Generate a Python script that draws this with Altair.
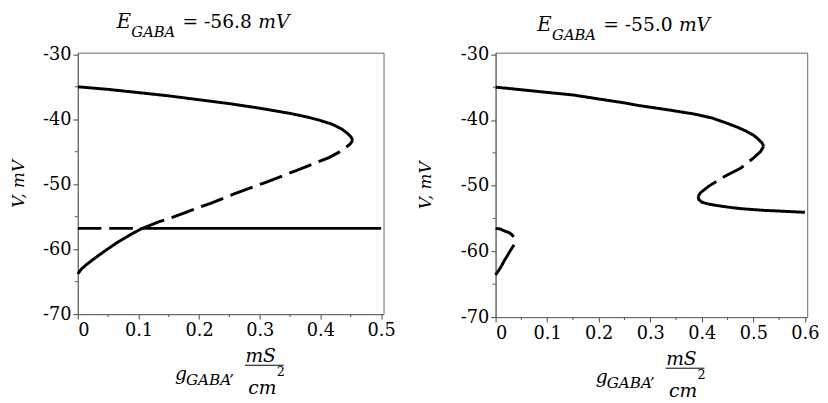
import altair as alt
import pandas as pd

FONT = "DejaVu Serif"

# ---------------- Left panel (E_GABA = -56.8 mV) ----------------
L_up_g = [0, 0.05, 0.1, 0.15, 0.2, 0.25, 0.3, 0.35, 0.38, 0.40, 0.42, 0.435, 0.445, 0.451, 0.453]
L_up_v = [-35.0, -35.4, -35.9, -36.4, -37.0, -37.6, -38.3, -39.1, -39.7, -40.2, -40.8, -41.5, -42.2, -42.8, -43.3]

L_low_solid_g = [0, 0.0065, 0.0146, 0.025, 0.036, 0.052, 0.063, 0.079, 0.09, 0.106]
L_low_solid_v = [-63.8, -63.0, -62.35, -61.6, -60.85, -59.8, -59.1, -58.2, -57.6, -56.8]

L_low_dash_g = [0.106, 0.117, 0.133, 0.15, 0.176, 0.22, 0.26, 0.31, 0.36, 0.39, 0.414, 0.43, 0.44, 0.449, 0.453]
L_low_dash_v = [-56.8, -56.4, -55.8, -55.3, -54.4, -52.9, -51.4, -49.7, -47.9, -46.8, -45.9, -45.1, -44.5, -43.8, -43.3]

L_hor_dash_g = [0, 0.106]
L_hor_dash_v = [-56.8, -56.8]
L_hor_solid_g = [0.106, 0.5]
L_hor_solid_v = [-56.8, -56.8]

# ---------------- Right panel (E_GABA = -55.0 mV) ----------------
R_up_g = [0, 0.05, 0.1, 0.151, 0.2, 0.25, 0.278, 0.33, 0.386, 0.42, 0.449, 0.469, 0.486, 0.5, 0.508, 0.517, 0.52]
R_up_v = [-35.0, -35.4, -35.8, -36.2, -36.8, -37.4, -37.8, -38.4, -39.1, -39.7, -40.5, -41.1, -41.7, -42.3, -42.8, -43.5, -44.0]

R_mid_dash_g = [0.393, 0.397, 0.413, 0.444, 0.476, 0.50, 0.514, 0.52]
R_mid_dash_v = [-51.6, -51.1, -50.1, -48.6, -47.3, -45.8, -44.8, -44.0]

R_low_solid_g = [0.393, 0.394, 0.40, 0.413, 0.44, 0.476, 0.52, 0.56, 0.6]
R_low_solid_v = [-51.6, -52.1, -52.5, -52.8, -53.15, -53.5, -53.75, -53.9, -54.05]

R_small_dash_g = [0, 0.009, 0.018, 0.026, 0.031, 0.035]
R_small_dash_v = [-56.5, -56.6, -56.9, -57.15, -57.4, -57.8]

R_small_solid_g = [0.036, 0.03, 0.024, 0.017, 0.011, 0.005, 0]
R_small_solid_v = [-59.0, -59.7, -60.5, -61.4, -62.3, -63.0, -63.6]

Y_MAJOR = [-70, -60, -50, -40, -30]
Y_MINOR = [-65, -55, -45, -35]
L_X_MAJOR = [0, 0.1, 0.2, 0.3, 0.4, 0.5]
L_X_MINOR = [0.05, 0.15, 0.25, 0.35, 0.45]
R_X_MAJOR = [0, 0.1, 0.2, 0.3, 0.4, 0.5, 0.6]
R_X_MINOR = [0.05, 0.15, 0.25, 0.35, 0.45, 0.55]

L_TITLE = "= -56.8"
R_TITLE = "= -55.0"


def frame(segments):
    rows = []
    for sid, (gs, vs, style) in enumerate(segments):
        for i, (g, v) in enumerate(zip(gs, vs)):
            rows.append({"g": g, "v": v, "seg": sid, "i": i, "style": style})
    return pd.DataFrame(rows)


def txt(s, x, y, size, style="normal"):
    return alt.Chart(pd.DataFrame({"k": [0]})).mark_text(
        text=s, font=FONT, fontSize=size, fontStyle=style, align="left",
        baseline="alphabetic", color="black"
    ).encode(x=alt.value(x), y=alt.value(y))


def panel(df, W, H, xmax, xmajor, xminor, title_val, title_base, title_pad):
    xs = alt.Scale(domain=[0, xmax], nice=False, zero=False)
    ys = alt.Scale(domain=[-70, -29.75], nice=False, zero=False)
    xa = alt.Axis(values=xmajor, title=None, grid=False, format="~g",
                  tickSize=5, labelPadding=3, labelOverlap=False)
    ya = alt.Axis(values=Y_MAJOR, title="V, mV", grid=False,
                  labelExpr="(datum.value < 0 ? '-' : '') + abs(datum.value)",
                  tickSize=5, labelPadding=2, labelOverlap=False, titlePadding=title_pad)
    lines = alt.Chart(df).mark_line(strokeWidth=3, color="black", strokeCap="butt").encode(
        x=alt.X("g:Q", scale=xs, axis=xa),
        y=alt.Y("v:Q", scale=ys, axis=ya),
        detail="seg:N",
        order="i:Q",
        strokeDash=alt.StrokeDash("style:N", scale=alt.Scale(domain=["solid", "dash"], range=[[1, 0], [24, 8]]), legend=None),
    )
    xminor_ticks = alt.Chart(pd.DataFrame({"g": xminor})).mark_rule(color="#555555", strokeWidth=1).encode(
        x=alt.X("g:Q", scale=xs, axis=xa), y=alt.value(H), y2=alt.value(H + 3))
    yminor_ticks = alt.Chart(pd.DataFrame({"v": Y_MINOR})).mark_rule(color="#555555", strokeWidth=1).encode(
        y=alt.Y("v:Q", scale=ys, axis=ya), x=alt.value(-3), x2=alt.value(0))
    cx = W / 2
    layers = [
        lines,
        xminor_ticks,
        yminor_ticks,
        txt("E", cx - 116, title_base, 20, "italic"),
        txt("GABA", cx - 101, title_base + 9.5, 15, "italic"),
        txt(title_val, cx - 49, title_base, 19),
        txt("mV", cx + 28, title_base, 19, "italic"),
        txt("g", cx - 56.5, H + 67, 19, "italic"),
        txt("GABA\u2019", cx - 45.5, H + 72.5, 15.5, "italic"),
        txt("mS", cx + 15, H + 48.5, 19, "italic"),
        txt("cm", cx + 18, H + 81.5, 19, "italic"),
        txt("2", cx + 47, H + 63, 13),
        alt.Chart(pd.DataFrame({"k": [0]})).mark_rule(color="black", strokeWidth=1).encode(
            x=alt.value(cx + 14.5), x2=alt.value(cx + 54), y=alt.value(H + 52)),
    ]
    return alt.layer(*layers).properties(width=W, height=H)


left_df = frame([
    (L_up_g, L_up_v, "solid"),
    (L_low_solid_g, L_low_solid_v, "solid"),
    (L_low_dash_g, L_low_dash_v, "dash"),
    (L_hor_dash_g, L_hor_dash_v, "dash"),
    (L_hor_solid_g, L_hor_solid_v, "solid"),
])
right_df = frame([
    (R_up_g, R_up_v, "solid"),
    (R_mid_dash_g, R_mid_dash_v, "dash"),
    (R_low_solid_g, R_low_solid_v, "solid"),
    (R_small_dash_g, R_small_dash_v, "dash"),
    (R_small_solid_g, R_small_solid_v, "solid"),
])

left = panel(left_df, 311, 266, 0.504, L_X_MAJOR, L_X_MINOR, L_TITLE, -25, 15)
right = panel(right_df, 317, 269, 0.6045, R_X_MAJOR, R_X_MINOR, R_TITLE, -22, 26)

chart = alt.hconcat(left, right, spacing=20).properties(
    padding={"left": 1, "top": 0, "right": 0, "bottom": 0}
).configure_view(stroke="#666666", strokeWidth=1).configure_axis(
    labelFont=FONT, labelFontSize=18, labelColor="black",
    titleFont=FONT, titleFontSize=17, titleFontStyle="italic", titleFontWeight="normal", titleColor="black",
    domainColor="#666666", tickColor="#444444", ticks=True,
)

chart.save("out.html", embed_options={"renderer": "svg", "actions": False})
